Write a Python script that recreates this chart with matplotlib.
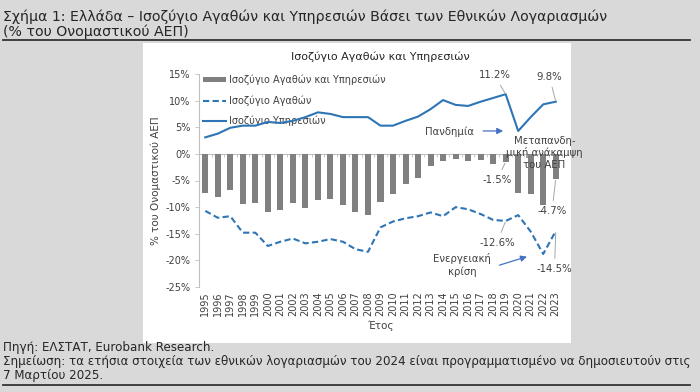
import numpy as np
import matplotlib
matplotlib.use("Agg")
import matplotlib.pyplot as plt
from matplotlib.patches import Rectangle
from matplotlib.lines import Line2D

years = [str(y) for y in range(1995, 2024)]
total = [-7.4, -8.1, -6.7, -9.5, -9.3, -11.0, -10.5, -9.3, -10.1, -8.6,
         -8.4, -9.6, -11.0, -11.5, -9.0, -7.5, -5.7, -4.5, -2.3, -1.4,
         -0.9, -1.3, -1.1, -1.9, -1.5, -7.4, -7.5, -9.6, -4.7]
goods = [-10.7, -12.0, -11.7, -14.8, -14.8, -17.3, -16.5, -15.9, -16.8, -16.5,
         -16.0, -16.5, -17.9, -18.4, -13.8, -12.7, -12.1, -11.7, -11.0, -11.7,
         -10.0, -10.4, -11.3, -12.4, -12.6, -11.5, -14.6, -18.8, -14.5]
services = [3.1, 3.8, 4.9, 5.3, 5.3, 6.0, 5.8, 6.2, 6.9, 7.8,
            7.5, 6.9, 6.9, 6.9, 5.3, 5.3, 6.2, 7.0, 8.4, 10.1,
            9.2, 9.0, 9.8, 10.5, 11.2, 4.3, 6.9, 9.3, 9.8]
yticks = [15, 10, 5, 0, -5, -10, -15, -20, -25]

BG = "#d9d9d9"
BAR = "#808080"
BLUE = "#2e75b6"
TXT = "#404040"

plt.rcParams["font.family"] = ["DejaVu Sans"]

W, H = 700, 392
fig = plt.figure(figsize=(7, 3.92), dpi=100, facecolor=BG)


def fx(px):
    return px / W


def fy(py):
    return 1 - py / H


# white chart panel (behind everything)
fig.patches.append(Rectangle((fx(143), fy(343)), fx(571) - fx(143), fy(43) - fy(343),
                             transform=fig.transFigure, facecolor="white",
                             edgecolor="none", zorder=-10))

# header / footer
fig.text(fx(3), fy(17), "Σχήμα 1: Ελλάδα – Ισοζύγιο Αγαθών και Υπηρεσιών Βάσει των Εθνικών Λογαριασμών",
         fontsize=10.2, color="#262626", va="center", ha="left")
fig.text(fx(3), fy(32), "(% του Ονομαστικού ΑΕΠ)", fontsize=10.2, color="#262626",
         va="center", ha="left")
fig.add_artist(Line2D([fx(3), fx(690)], [fy(40), fy(40)], transform=fig.transFigure,
                      color="#333333", lw=1.3))
fig.text(fx(3), fy(348), "Πηγή: ΕΛΣΤΑΤ, Eurobank Research.", fontsize=8.6,
         color="#262626", va="center", ha="left")
fig.text(fx(3), fy(362), "Σημείωση: τα ετήσια στοιχεία των εθνικών λογαριασμών του 2024 "
         "είναι προγραμματισμένο να δημοσιευτούν στις", fontsize=8.6,
         color="#262626", va="center", ha="left")
fig.text(fx(3), fy(375), "7 Μαρτίου 2025.", fontsize=8.6, color="#262626",
         va="center", ha="left")
fig.add_artist(Line2D([fx(3), fx(690)], [fy(385), fy(385)], transform=fig.transFigure,
                      color="#333333", lw=1.3))

# axes
ax = fig.add_axes([fx(199), fy(287), fx(562) - fx(199), fy(74) - fy(287)])
ax.set_facecolor("none")
x = np.arange(len(years))

bars = ax.bar(x, total, width=0.48, color=BAR, zorder=2)
l_goods, = ax.plot(x, goods, color=BLUE, lw=1.5, ls=(0, (3, 1.6)), zorder=3)
l_serv, = ax.plot(x, services, color=BLUE, lw=1.5, zorder=3)

ax.set_xlim(-0.5, len(years) - 0.5)
ax.set_ylim(-25, 15)
ax.set_yticks(yticks)
ax.set_yticklabels([f"{v}%" for v in yticks])
ax.set_xticks(x)
ax.set_xticklabels(years, rotation=90)
ax.tick_params(axis="x", length=0, labelsize=7, colors=TXT, pad=3)
ax.tick_params(axis="y", length=3, width=0.6, color="#bfbfbf", labelsize=7,
               labelcolor=TXT, pad=3)
for s in ["top", "right", "bottom"]:
    ax.spines[s].set_visible(False)
ax.spines["left"].set_color("#bfbfbf")
ax.spines["left"].set_linewidth(0.8)

# horizontal axis line at zero with category tick marks
zero = ax.secondary_xaxis(0, transform=ax.transData)
zero.spines["bottom"].set_color("#bfbfbf")
zero.spines["bottom"].set_linewidth(0.8)
zero.set_xticks(np.arange(-0.5, len(years), 1.0))
zero.tick_params(length=2.5, width=0.6, color="#bfbfbf", labelbottom=False)

ax.set_xlabel("Έτος", fontsize=7.5, color=TXT, labelpad=3)
ax.set_ylabel("% του Ονομαστικού ΑΕΠ", fontsize=7.5, color=TXT, labelpad=3)
ax.set_title("Ισοζύγιο Αγαθών και Υπηρεσιών", fontsize=8, color="#262626", pad=10)

leg = ax.legend([bars, l_goods, l_serv],
                ["Ισοζύγιο Αγαθών και Υπηρεσιών", "Ισοζύγιο Αγαθών", "Ισοζύγιο Υπηρεσιών"],
                loc="upper left", bbox_to_anchor=(0.0, 1.016), frameon=False,
                fontsize=7, handlelength=2.4, handleheight=0.45, handletextpad=0.3,
                labelspacing=1.05, borderaxespad=0, labelcolor=TXT)
leg.set_zorder(1)

# annotations
lead = dict(arrowstyle="-", color="#a6a6a6", lw=0.7, shrinkA=2, shrinkB=1)
afont = dict(fontsize=7.3, color=TXT, ha="center", va="center")
ax.annotate(f"{services[24]}%", xy=(24, services[24]), xytext=(23.1, 14.8), arrowprops=lead, **afont)
ax.annotate(f"{services[28]}%", xy=(28, services[28]), xytext=(27.5, 14.5), arrowprops=lead, **afont)
ax.annotate(f"{total[24]}%", xy=(24, total[24]), xytext=(23.3, -4.9), arrowprops=lead, **afont)
ax.annotate(f"{total[28]}%", xy=(28, total[28]), xytext=(27.7, -10.8), arrowprops=lead, **afont)
ax.annotate(f"{goods[24]}%", xy=(24, goods[24]), xytext=(23.3, -16.7), arrowprops=lead, **afont)
ax.annotate(f"{goods[28]}%", xy=(28, goods[28]), xytext=(27.9, -21.6), arrowprops=lead, **afont)

arrow = dict(arrowstyle="-|>", color="#4472c4", lw=0.9, mutation_scale=9, shrinkA=0, shrinkB=0)
ax.text(19.5, 4.2, "Πανδημία", **afont)
ax.annotate("", xy=(23.8, 4.3), xytext=(22.2, 4.3), arrowprops=arrow)
ax.text(27.1, 0.2, "Μεταπανδη-\nμική ανάκαμψη\nτου ΑΕΠ", linespacing=1.15, zorder=5, **afont)
ax.text(20.5, -20.9, "Ενεργειακή\nκρίση", linespacing=1.3, **afont)
ax.annotate("", xy=(25.7, -19.3), xytext=(23.5, -20.9), arrowprops=arrow)

fig.savefig("out.png", dpi=100, facecolor=BG)
